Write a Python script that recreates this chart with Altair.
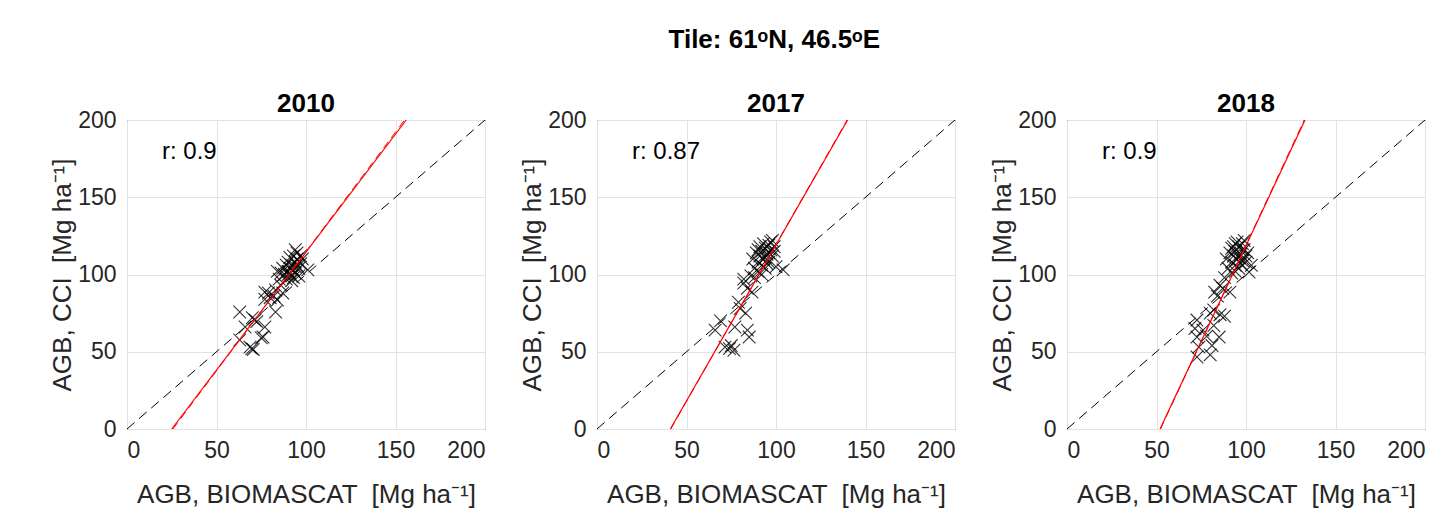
import altair as alt
import pandas as pd

years = ["2010", "2017", "2018"]
r_labels = ["r: 0.9", "r: 0.87", "r: 0.9"]

x_2010 = [69.7, 70.5, 68.7, 63, 75, 76, 77, 66, 71.5, 72.5, 63, 70, 83, 84, 77, 77, 79, 83, 87, 80, 82, 86, 85,
          88, 90, 91, 92, 93, 94, 95, 90, 89, 92, 94, 96, 97, 93, 95, 91, 87, 86, 92, 96, 98, 94, 90, 93, 95, 97, 89, 91,
          101, 94, 84]
y_2010 = [52, 51.5, 53, 57.6, 59, 59.5, 66, 66, 70.5, 69.5, 75.7, 72, 75.7, 83.5, 84, 88.6, 88, 90, 88, 85, 86, 93, 97,
          100, 102, 104, 106, 103, 108, 110, 108, 97, 99, 101, 104, 107, 112, 114, 111, 104, 101, 96, 99, 110, 105, 100, 98, 106, 112, 106, 101,
          103, 116, 102]

x_2017 = [74, 71.5, 76.5, 75, 84, 85, 66, 69, 77, 80, 83, 79, 82, 86.6, 88, 84, 82,
          88, 90, 91, 92, 93, 94, 95, 96, 97, 90, 92, 94, 96, 98, 89, 91, 93, 95, 97, 99, 87, 92, 94, 96, 90, 86,
          104, 98, 100, 99]
y_2017 = [52, 53, 51, 54, 64, 59.5, 64, 70, 66, 78, 75, 82, 94.5, 88.6, 98, 91, 97,
          104, 108, 112, 115, 110, 117, 113, 119, 116, 102, 106, 104, 108, 112, 114, 118, 120, 107, 121, 115, 110, 100, 111, 114, 116, 99,
          103, 122, 105, 118]

x_2018 = [72.6, 80, 73.7, 81, 85, 72.6, 78, 71.5, 76, 82, 72.6, 82, 85.5, 88, 80, 82.5, 85.5, 91, 88, 84, 87,
          90, 92, 93, 94, 95, 96, 97, 98, 99, 92, 94, 96, 98, 100, 91, 93, 95, 97, 99, 101, 89, 94, 96, 98, 92, 100,
          101.7, 94, 103]
y_2018 = [46.6, 48, 53, 54, 59.5, 59.5, 60, 65, 64, 67, 70.5, 77, 74, 73, 75, 88.6, 93, 88.6, 98, 86, 91,
          104, 108, 112, 115, 110, 118, 113, 120, 116, 101, 106, 104, 109, 112, 114, 118, 121, 107, 122, 114, 110, 102, 111, 116, 117, 108,
          101.6, 120, 106]

xs = [x_2010, x_2017, x_2018]
ys = [y_2010, y_2017, y_2018]

fit_slope = [1.527, 2.02, 2.47]
fit_intercept = [-38.2, -82.8, -128.4]
fit2_slope = [1.545, 2.03, 2.49]
fit2_intercept = [-39.6, -83.6, -130.0]

tick_values = [0, 50, 100, 150, 200]
x_title = "AGB, BIOMASCAT \u00a0[Mg ha\u207b\u00b9]"
y_title = "AGB, CCI \u00a0[Mg ha\u207b\u00b9]"
AX_MIN, AX_MAX = 0, 200

cross = "M -1 -1 L 1 1 M -1 1 L 1 -1"


def line_df(m, b):
    x0 = max(AX_MIN, (AX_MIN - b) / m)
    x1 = min(AX_MAX, (AX_MAX - b) / m)
    return pd.DataFrame({"x": [x0, x1], "y": [m * x0 + b, m * x1 + b]})


def panel(i):
    xsc = alt.Scale(domain=[AX_MIN, AX_MAX], nice=False)
    ysc = alt.Scale(domain=[AX_MIN, AX_MAX], nice=False)
    X = alt.X("x:Q", scale=xsc, axis=alt.Axis(values=tick_values, title=x_title))
    Y = alt.Y("y:Q", scale=ysc, axis=alt.Axis(values=tick_values, title=y_title))

    diag = alt.Chart(pd.DataFrame({"x": [AX_MIN, AX_MAX], "y": [AX_MIN, AX_MAX]})).mark_line(
        color="black", strokeWidth=1, strokeDash=[10, 6]).encode(x=X, y=Y)
    pts = alt.Chart(pd.DataFrame({"x": xs[i], "y": ys[i]})).mark_point(
        shape=cross, filled=False, size=160, strokeWidth=1.1, color="black", opacity=0.8).encode(x=X, y=Y)
    fit1 = alt.Chart(line_df(fit_slope[i], fit_intercept[i])).mark_line(
        color="red", strokeWidth=1.2).encode(x=X, y=Y)
    fit2 = alt.Chart(line_df(fit2_slope[i], fit2_intercept[i])).mark_line(
        color="red", strokeWidth=1, strokeDash=[8, 5]).encode(x=X, y=Y)
    txt = alt.Chart(pd.DataFrame({"t": [r_labels[i]]})).mark_text(
        align="left", baseline="middle", fontSize=24, color="black", font="Liberation Sans").encode(
        x=alt.value(35), y=alt.value(32), text="t:N")
    return alt.layer(diag, pts, fit1, fit2, txt).properties(
        width=358, height=309,
        title=alt.TitleParams(years[i], fontSize=26, fontWeight="bold", offset=-8, color="black"))


chart = alt.hconcat(panel(0), panel(1), panel(2), spacing=31).properties(
    title=alt.TitleParams("Tile: 61\u1d52N, 46.5\u1d52E", fontSize=26, fontWeight="bold",
                          anchor="middle", color="black", offset=38, dx=36),
    padding={"left": 41, "top": 18, "right": 0, "bottom": 5},
).configure(font="Liberation Sans").configure_view(
    stroke="#262626", strokeWidth=1
).configure_axis(
    domain=False, ticks=False, grid=True, gridColor="#e2e2e2", gridWidth=1,
    labelFontSize=23, labelColor="#262626", labelFont="Liberation Sans",
    titleFontSize=26, titleFontWeight="normal", titleColor="#262626", titleFont="Liberation Sans",
).configure_axisX(titlePadding=19, labelPadding=10).configure_axisY(titlePadding=2, labelPadding=11).configure_title(font="Liberation Sans")

chart.save("out.html", embed_options={"renderer": "svg", "actions": False})
